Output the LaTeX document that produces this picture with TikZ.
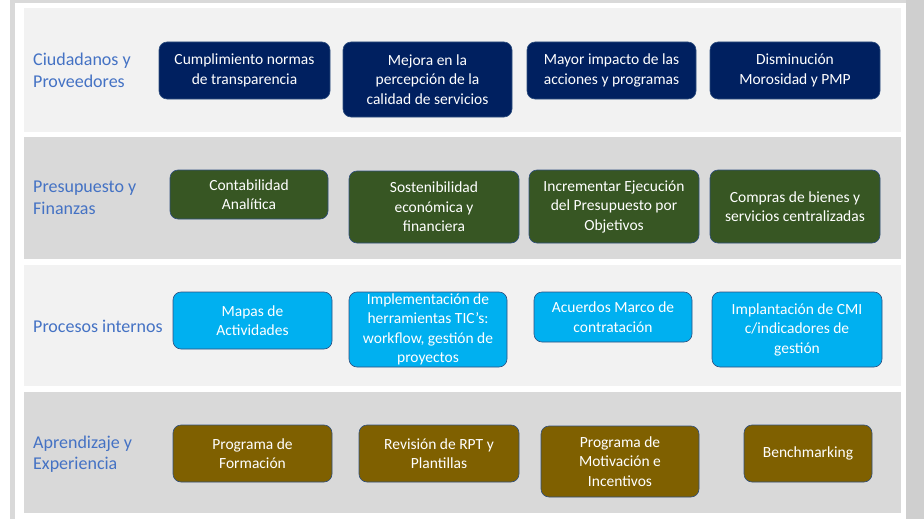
\documentclass[tikz,border=0pt]{standalone}
\usepackage{fontspec}
\setmainfont{Carlito}
\usepackage{xcolor}
\definecolor{navygoal}{HTML}{002060}
\definecolor{greengoal}{HTML}{375623}
\definecolor{cyangoal}{HTML}{00B0F0}
\definecolor{browngoal}{HTML}{7F6000}
\definecolor{persblue}{HTML}{4472C4}
\definecolor{lightband}{HTML}{F2F2F2}
\definecolor{darkband}{HTML}{D9D9D9}
\definecolor{edgegray}{HTML}{CFCFCF}
\definecolor{goalline}{HTML}{2F4F7F}

\tikzset{
  goal/.style={rounded corners=8pt, draw=goalline, line width=0.6pt, text=white,
    align=center, inner sep=0pt, font=\fontsize{15.5}{19.5}\selectfont},
  persp/.style={anchor=west, align=left, inner sep=0pt, text=persblue,
    font=\fontsize{18}{21.5}\selectfont}
}

\begin{document}
\begin{tikzpicture}[x=1pt, y=-1pt]

  % bounding box
  \useasboundingbox (0,0) rectangle (924,519);
  \fill[white] (0,0) rectangle (924,519);

  % frame strips
  \fill[darkband] (10,0) rectangle (15,519);
  \fill[darkband] (15,0) rectangle (906,3);
  \fill[edgegray] (906,0) rectangle (924,519);

  % perspective bands
  \fill[lightband] (24,8) rectangle (901,132);
  \fill[darkband] (24,137) rectangle (901,259);
  \fill[lightband] (24,265) rectangle (901,386);
  \fill[darkband] (24,392) rectangle (901,513);

  % Ciudadanos y Proveedores
  \node[persp] (lcit) at (33,70.5) {Ciudadanos y\\Proveedores};
  \node[goal, fill=navygoal, minimum width=171pt, minimum height=57pt] (c1) at (244.5,70.5) {Cumplimiento normas\\de transparencia};
  \node[goal, fill=navygoal, minimum width=169pt, minimum height=75pt] (c2) at (427.5,79.5) {Mejora en la\\percepción de la\\calidad de servicios};
  \node[goal, fill=navygoal, minimum width=169pt, minimum height=57pt] (c3) at (611.5,70.5) {Mayor impacto de las\\acciones y programas};
  \node[goal, fill=navygoal, minimum width=170pt, minimum height=57pt] (c4) at (795,70.5) {Disminución\\Morosidad y PMP};

  % Presupuesto y Finanzas
  \node[persp] (lfin) at (33,198) {Presupuesto y\\Finanzas};
  \node[goal, fill=greengoal, minimum width=158pt, minimum height=49pt] (f1) at (249,194.5) {Contabilidad\\Analítica};
  \node[goal, fill=greengoal, minimum width=170pt, minimum height=72pt] (f2) at (434,207) {Sostenibilidad\\económica y\\financiera};
  \node[goal, fill=greengoal, minimum width=170pt, minimum height=73pt] (f3) at (614,206.5) {Incrementar Ejecución\\del Presupuesto por\\Objetivos};
  \node[goal, fill=greengoal, minimum width=170pt, minimum height=73pt] (f4) at (795,206.5) {Compras de bienes y\\servicios centralizadas};

  % Procesos internos
  \node[persp] (lpro) at (33,326) {Procesos internos};
  \node[goal, fill=cyangoal, minimum width=159pt, minimum height=57pt] (p1) at (252.5,320.5) {Mapas de\\Actividades};
  \node[goal, fill=cyangoal, minimum width=158pt, minimum height=75pt] (p2) at (428,329.5) {Implementación de\\herramientas TIC’s:\\workflow, gestión de\\proyectos};
  \node[goal, fill=cyangoal, minimum width=158pt, minimum height=50pt] (p3) at (613,317) {Acuerdos Marco de\\contratación};
  \node[goal, fill=cyangoal, minimum width=170pt, minimum height=75pt] (p4) at (797,329.5) {Implantación de CMI\\c/indicadores de\\gestión};

  % Aprendizaje y Experiencia
  \node[persp] (lapr) at (33,454) {Aprendizaje y\\Experiencia};
  \node[goal, fill=browngoal, minimum width=159pt, minimum height=57pt] (a1) at (252.5,453.5) {Programa de\\Formación};
  \node[goal, fill=browngoal, minimum width=160pt, minimum height=57pt] (a2) at (439,453.5) {Revisión de RPT y\\Plantillas};
  \node[goal, fill=browngoal, minimum width=158pt, minimum height=71pt] (a3) at (620,461.5) {Programa de\\Motivación e\\Incentivos};
  \node[goal, fill=browngoal, minimum width=128pt, minimum height=57pt] (a4) at (808,453.5) {Benchmarking};

\end{tikzpicture}
\end{document}
